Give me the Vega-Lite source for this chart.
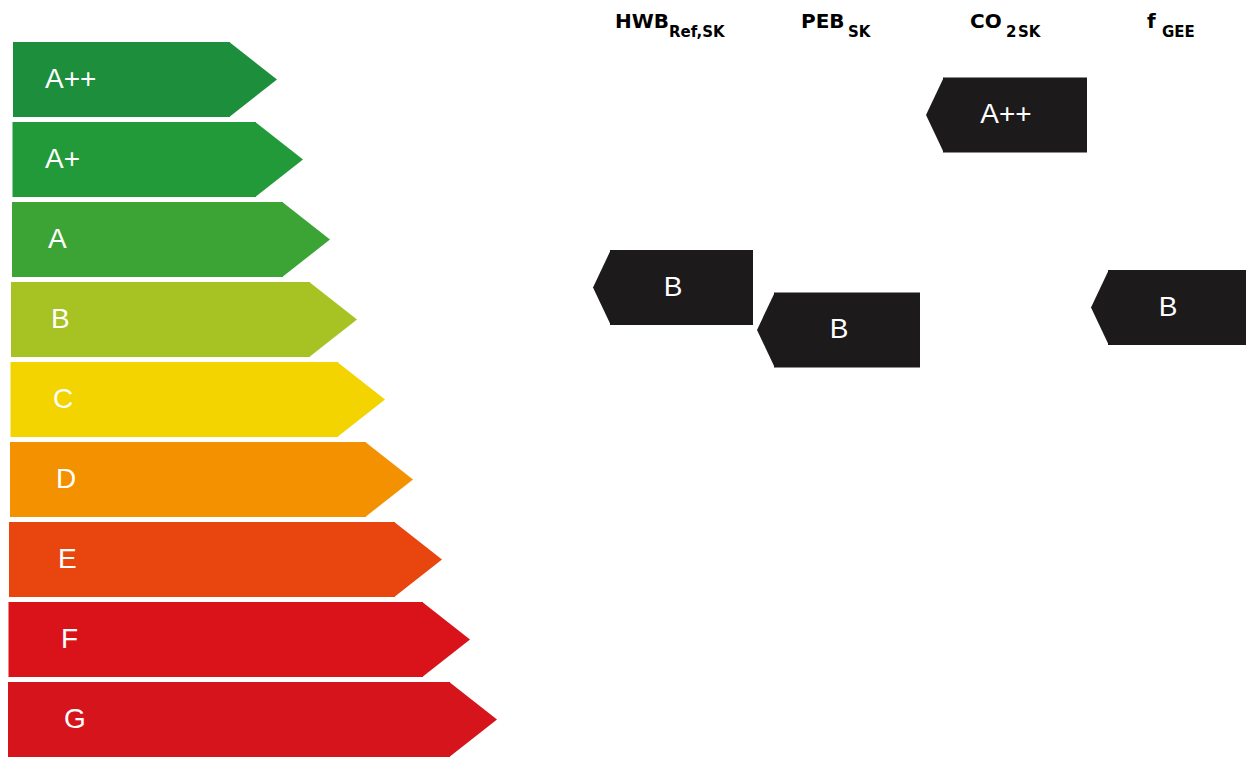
{
  "$schema": "https://vega.github.io/schema/vega-lite/v6.json",
  "autosize": {"type": "none"},
  "width": 1246,
  "height": 757,
  "padding": 0,
  "background": "white",
  "config": {"view": {"stroke": null}},
  "datasets": {
    "grades": [
      {"grade": "A++", "x0": 13, "x1": 230, "lx": 45, "v": 0},
      {"grade": "A+", "x0": 12.5, "x1": 256, "lx": 45, "v": 1},
      {"grade": "A", "x0": 12, "x1": 283, "lx": 48, "v": 2},
      {"grade": "B", "x0": 11, "x1": 310, "lx": 51, "v": 3},
      {"grade": "C", "x0": 10.5, "x1": 338, "lx": 53, "v": 4},
      {"grade": "D", "x0": 10, "x1": 366, "lx": 56, "v": 5},
      {"grade": "E", "x0": 9, "x1": 395, "lx": 58, "v": 6},
      {"grade": "F", "x0": 8.5, "x1": 423, "lx": 61, "v": 7},
      {"grade": "G", "x0": 8, "x1": 450, "lx": 64, "v": 8}
    ],
    "markers": [
      {"indicator": "HWB", "rating": "B", "x0": 610, "x1": 753, "tx": 673, "v": 2.6},
      {"indicator": "PEB", "rating": "B", "x0": 774, "x1": 920, "tx": 839, "v": 3.13},
      {"indicator": "CO2", "rating": "A++", "x0": 943, "x1": 1087, "tx": 1006, "v": 0.444},
      {"indicator": "fGEE", "rating": "B", "x0": 1108, "x1": 1246, "tx": 1168, "v": 2.85}
    ],
    "heads": [
      {"t": "HWB", "x": 615, "v": -0.644},
      {"t": "PEB", "x": 801, "v": -0.644},
      {"t": "CO", "x": 970, "v": -0.644},
      {"t": "f", "x": 1147, "v": -0.644}
    ],
    "subs": [
      {"t": "Ref,SK", "x": 669, "v": -0.535},
      {"t": "SK", "x": 848, "v": -0.535},
      {"t": "2", "x": 1006, "v": -0.535},
      {"t": "SK", "x": 1018, "v": -0.535},
      {"t": "GEE", "x": 1162, "v": -0.535}
    ]
  },
  "layer": [
    {
      "data": {"name": "grades"},
      "mark": {"type": "bar", "orient": "horizontal", "height": 75, "cornerRadius": 0},
      "encoding": {
        "x": {"field": "x0", "type": "quantitative", "scale": {"domain": [0, 1246], "nice": false, "zero": false, "padding": 0}, "axis": null},
        "x2": {"field": "x1"},
        "y": {"field": "v", "type": "quantitative", "scale": {"domain": [-0.99375, 8.46875], "nice": false, "zero": false, "reverse": true, "padding": 0}, "axis": null},
        "color": {"field": "grade", "type": "nominal", "legend": null,
          "scale": {"domain": ["A++", "A+", "A", "B", "C", "D", "E", "F", "G"],
                    "range": ["#1d8e3b", "#239a39", "#3ca434", "#a7c223", "#f3d300", "#f39100", "#e9460f", "#d91319", "#d6141c"]}}
      }
    },
    {
      "data": {"name": "grades"},
      "mark": {"type": "point", "shape": "M-0.02,-1L1.2533,0L-0.02,1Z", "size": 5625, "filled": true, "opacity": 1, "strokeWidth": 0},
      "encoding": {
        "x": {"field": "x1", "type": "quantitative"},
        "y": {"field": "v", "type": "quantitative"},
        "color": {"field": "grade", "type": "nominal", "legend": null}
      }
    },
    {
      "data": {"name": "grades"},
      "mark": {"type": "text", "align": "left", "baseline": "middle", "font": "Liberation Sans", "fontSize": 28, "color": "white"},
      "encoding": {
        "x": {"field": "lx", "type": "quantitative"},
        "y": {"field": "v", "type": "quantitative"},
        "text": {"field": "grade"}
      }
    },
    {
      "data": {"name": "markers"},
      "mark": {"type": "bar", "orient": "horizontal", "height": 75, "color": "#1c1a1b"},
      "encoding": {
        "x": {"field": "x0", "type": "quantitative"},
        "x2": {"field": "x1"},
        "y": {"field": "v", "type": "quantitative"}
      }
    },
    {
      "data": {"name": "markers"},
      "mark": {"type": "point", "shape": "M0.02,-1L-0.453,0L0.02,1Z", "size": 5625, "filled": true, "opacity": 1, "strokeWidth": 0, "color": "#1c1a1b"},
      "encoding": {
        "x": {"field": "x0", "type": "quantitative"},
        "y": {"field": "v", "type": "quantitative"}
      }
    },
    {
      "data": {"name": "markers"},
      "mark": {"type": "text", "align": "center", "baseline": "middle", "font": "Liberation Sans", "fontSize": 28, "color": "white"},
      "encoding": {
        "x": {"field": "tx", "type": "quantitative"},
        "y": {"field": "v", "type": "quantitative"},
        "text": {"field": "rating"}
      }
    },
    {
      "data": {"name": "heads"},
      "mark": {"type": "text", "align": "left", "baseline": "alphabetic", "font": "DejaVu Sans", "fontWeight": "bold", "fontSize": 20, "color": "black"},
      "encoding": {
        "x": {"field": "x", "type": "quantitative"},
        "y": {"field": "v", "type": "quantitative"},
        "text": {"field": "t"}
      }
    },
    {
      "data": {"name": "subs"},
      "mark": {"type": "text", "align": "left", "baseline": "alphabetic", "font": "DejaVu Sans", "fontWeight": "bold", "fontSize": 15, "color": "black"},
      "encoding": {
        "x": {"field": "x", "type": "quantitative"},
        "y": {"field": "v", "type": "quantitative"},
        "text": {"field": "t"}
      }
    }
  ]
}
